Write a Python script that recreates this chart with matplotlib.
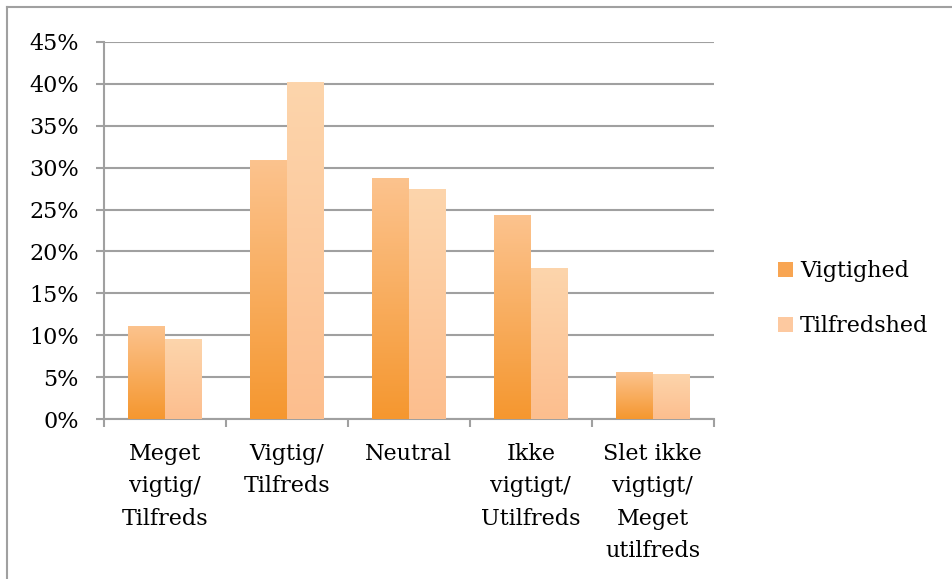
import numpy as np
import matplotlib
matplotlib.use("Agg")
import matplotlib.pyplot as plt
from matplotlib.colors import LinearSegmentedColormap
from matplotlib.lines import Line2D
from matplotlib.patches import Patch

categories = ["Meget\nvigtig/\nTilfreds", "Vigtig/\nTilfreds", "Neutral",
              "Ikke\nvigtigt/\nUtilfreds", "Slet ikke\nvigtigt/\nMeget\nutilfreds"]
series_names = ["Vigtighed", "Tilfredshed"]
vigtighed = [11.1, 30.9, 28.8, 24.3, 5.6]
tilfredshed = [9.5, 40.2, 27.4, 18.0, 5.4]
yticks = [0, 5, 10, 15, 20, 25, 30, 35, 40, 45]

plt.rcParams['font.family'] = ['DejaVu Serif']

fig = plt.figure(figsize=(9.53, 5.79), dpi=100)
ax = fig.add_axes([0.109, 0.2763, 0.64, 0.6512])

grad_colors = [("#F5972F", "#FCC38E"), ("#FCBE8E", "#FDD5AC")]
solid_colors = ["#F8A552", "#FDC9A0"]

x = np.arange(len(categories))
w = 0.3
for si, vals in enumerate([vigtighed, tilfredshed]):
    offs = (si - 0.5) * w
    bars = ax.bar(x + offs, vals, width=w, color="none", edgecolor="none",
                  zorder=3, label=series_names[si])
    cmap = LinearSegmentedColormap.from_list("g%d" % si, list(grad_colors[si]))
    grad = np.linspace(0, 1, 256).reshape(-1, 1)
    for b in bars:
        bx, by = b.get_x(), b.get_y()
        bw, bh = b.get_width(), b.get_height()
        im = ax.imshow(grad, cmap=cmap, origin="lower", aspect="auto",
                       extent=[bx, bx + bw, by, by + bh], zorder=3)
        im.set_clip_path(b)

ax.set_xlim(-0.5, len(categories) - 0.5)
ax.set_ylim(0, 45)
ax.set_yticks(yticks)
ax.set_yticklabels([f"{t}%" for t in yticks])
ax.yaxis.grid(True, color="#A0A0A0", linewidth=1.5, zorder=0)
ax.set_axisbelow(True)

ax.set_xticks(x)
ax.set_xticklabels(categories, fontsize=16, linespacing=1.62, va="top")
ax.set_xticks(np.arange(-0.5, len(categories), 1.0), minor=True)
ax.tick_params(axis="x", which="major", length=0, pad=17)
ax.tick_params(axis="x", which="minor", length=6, width=1.5, color="#A0A0A0")
ax.tick_params(axis="y", length=6, width=1.5, color="#A0A0A0", labelsize=16, pad=12)

for s in ["top", "right"]:
    ax.spines[s].set_visible(False)
for s in ["left", "bottom"]:
    ax.spines[s].set_color("#A0A0A0")
    ax.spines[s].set_linewidth(1.5)

handles = [Patch(facecolor=solid_colors[i], edgecolor="none") for i in range(2)]
fig.legend(handles, series_names, loc="center left", bbox_to_anchor=(0.816, 0.484),
           frameon=False, fontsize=16, handlelength=0.7, handleheight=0.7,
           handletextpad=0.3, labelspacing=1.5, borderpad=0, borderaxespad=0)

# outer frame (left and top)
fig.add_artist(Line2D([0.0078, 0.0078], [0, 0.988], transform=fig.transFigure,
                      color="#A0A0A0", linewidth=1.5))
fig.add_artist(Line2D([0.0078, 1.0], [0.988, 0.988], transform=fig.transFigure,
                      color="#A0A0A0", linewidth=1.5))

fig.savefig("out.png", dpi=100)
